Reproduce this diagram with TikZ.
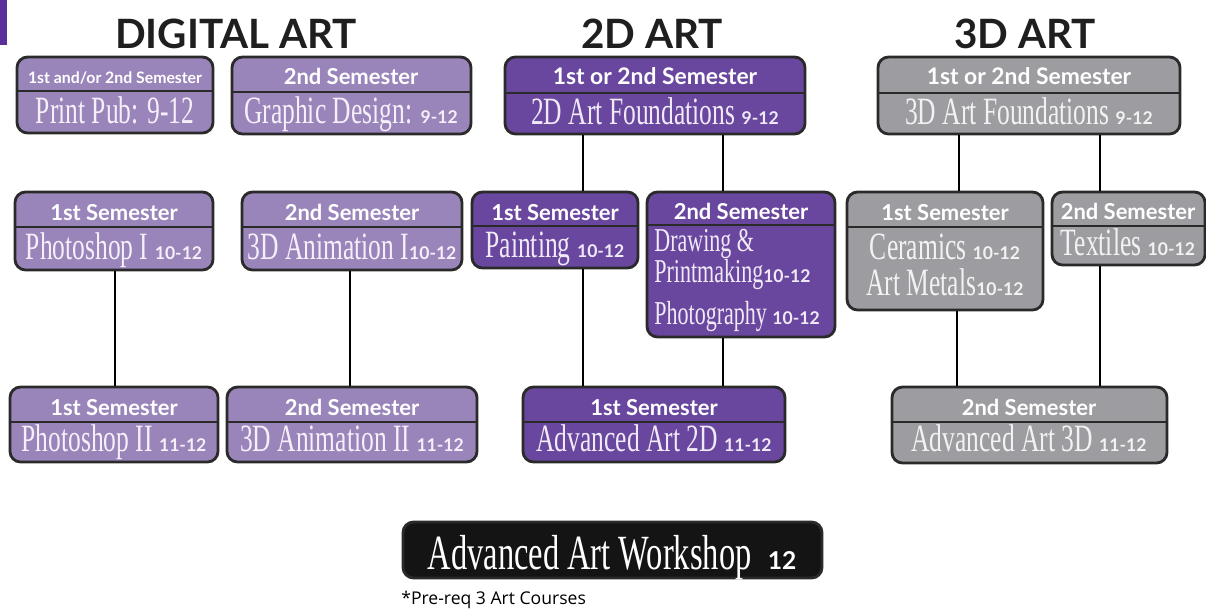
\documentclass[tikz,border=0pt]{standalone}
\usepackage{fontspec}
\usetikzlibrary{fit}

\newfontfamily\bodyfont{Liberation Serif}[FakeStretch=0.66]
\newfontfamily\headfont{Lato}
\newfontfamily\notefont{Open Sans}

\definecolor{digifill}{HTML}{9A85BB}
\definecolor{flatfill}{HTML}{6A479F}
\definecolor{roundfill}{HTML}{9D9DA1}
\definecolor{boxline}{HTML}{2A2A2A}
\definecolor{digitext}{HTML}{F4EFF9}
\definecolor{flattext}{HTML}{F0EAF7}
\definecolor{roundtext}{HTML}{F2F2F2}
\definecolor{cornermark}{HTML}{5B2F9B}

\newcommand{\yrs}[1]{{\headfont\bfseries\fontsize{10}{10}\selectfont #1}}

\begin{document}
\begin{tikzpicture}[x = 0.02cm, y = -0.02cm,
	box/.style = {draw = boxline, line width = 1.6pt, rounded corners = 6pt, inner sep = 0pt},
	digital/.style = {box, fill = digifill},
	art2d/.style = {box, fill = flatfill},
	art3d/.style = {box, fill = roundfill},
	divider/.style = {draw = boxline, line width = 1.2pt},
	link/.style = {draw = black, line width = 1.4pt},
	title/.style = {font = \headfont\bfseries\fontsize{23}{26}\selectfont, text = black!88, anchor = base, inner sep = 0pt},
	head/.style = {font = \headfont\bfseries\fontsize{12.5}{14}\selectfont, text = white, anchor = base, inner sep = 0pt},
	body/.style = {font = \bodyfont\fontsize{22}{24}\selectfont, anchor = base, inner sep = 0pt}]

	\useasboundingbox (0, 0) rectangle (1206, 610);
	\fill [cornermark] (0, 0) rectangle (7, 45);

	% Titles

	\node [title] (digtitle) at (236, 48) {DIGITAL ART};
	\node [title] (title2d) at (652, 48) {2D ART};
	\node [title] (title3d) at (1025, 48) {3D ART};

	% Digital art

	\node [digital, fit = {(17, 57) (213, 133)}] (printpub) {};
	\draw [divider] (printpub.west |- 0, 91) -- (printpub.east |- 0, 91);
	\node [head, font = \headfont\bfseries\fontsize{9}{10}\selectfont] (printpubH) at (115, 83) {1st and/or 2nd Semester};
	\node [body, text = digitext] (printpubT) at (115, 123) {Print Pub: 9-12};

	\node [digital, fit = {(232, 57) (471, 134)}] (graphic) {};
	\draw [divider] (graphic.west |- 0, 92) -- (graphic.east |- 0, 92);
	\node [head] (graphicH) at (351, 84) {2nd Semester};
	\node [body, text = digitext] (graphicT) at (351, 123) {Graphic Design: \yrs{9-12}};

	\node [digital, fit = {(15, 192) (213, 270)}] (photo1) {};
	\draw [divider] (photo1.west |- 0, 227) -- (photo1.east |- 0, 227);
	\node [head] (photo1H) at (114, 220) {1st Semester};
	\node [body, text = digitext] (photo1T) at (114, 259) {Photoshop I \yrs{10-12}};

	\node [digital, fit = {(242, 192) (462, 270)}] (anim1) {};
	\draw [divider] (anim1.west |- 0, 227) -- (anim1.east |- 0, 227);
	\node [head] (anim1H) at (352, 220) {2nd Semester};
	\node [body, text = digitext] (anim1T) at (352, 259) {3D Animation I\yrs{10-12}};

	\node [digital, fit = {(10, 387) (218, 462)}] (photo2) {};
	\draw [divider] (photo2.west |- 0, 422) -- (photo2.east |- 0, 422);
	\node [head] (photo2H) at (114, 415) {1st Semester};
	\node [body, text = digitext] (photo2T) at (114, 451) {Photoshop II \yrs{11-12}};

	\node [digital, fit = {(227, 387) (477, 462)}] (anim2) {};
	\draw [divider] (anim2.west |- 0, 422) -- (anim2.east |- 0, 422);
	\node [head] (anim2H) at (352, 415) {2nd Semester};
	\node [body, text = digitext] (anim2T) at (352, 451) {3D Animation II \yrs{11-12}};

	% 2D art

	\node [art2d, fit = {(505, 57) (805, 134)}] (found2d) {};
	\draw [divider] (found2d.west |- 0, 93) -- (found2d.east |- 0, 93);
	\node [head, font = \headfont\bfseries\fontsize{13}{14}\selectfont] (found2dH) at (655, 84) {1st or 2nd Semester};
	\node [body, text = flattext] (found2dT) at (655, 124) {2D Art Foundations \yrs{9-12}};

	\node [art2d, fit = {(472, 192) (638, 268)}] (paint) {};
	\draw [divider] (paint.west |- 0, 226) -- (paint.east |- 0, 226);
	\node [head] (paintH) at (555, 220) {1st Semester};
	\node [body, text = flattext] (paintT) at (555, 257) {Painting \yrs{10-12}};

	\node [art2d, fit = {(647, 192) (835, 337)}] (drawing) {};
	\draw [divider] (drawing.west |- 0, 225) -- (drawing.east |- 0, 225);
	\node [head] (drawingH) at (741, 219) {2nd Semester};
	\node [body, text = flattext, anchor = base west, font = \bodyfont\fontsize{19}{21}\selectfont] (drawingA) at (654, 251) {Drawing \&};
	\node [body, text = flattext, anchor = base west, font = \bodyfont\fontsize{19}{21}\selectfont] (drawingB) at (654, 282) {Printmaking\yrs{10-12}};
	\node [body, text = flattext, anchor = base west, font = \bodyfont\fontsize{19}{21}\selectfont] (drawingC) at (654, 324) {Photography \yrs{10-12}};

	\node [art2d, fit = {(523, 387) (785, 462)}] (adv2d) {};
	\draw [divider] (adv2d.west |- 0, 422) -- (adv2d.east |- 0, 422);
	\node [head] (adv2dH) at (654, 415) {1st Semester};
	\node [body, text = flattext] (adv2dT) at (654, 451) {Advanced Art 2D \yrs{11-12}};

	% 3D art

	\node [art3d, fit = {(878, 57) (1180, 134)}] (found3d) {};
	\draw [divider] (found3d.west |- 0, 93) -- (found3d.east |- 0, 93);
	\node [head, font = \headfont\bfseries\fontsize{13}{14}\selectfont] (found3dH) at (1029, 84) {1st or 2nd Semester};
	\node [body, text = roundtext] (found3dT) at (1029, 124) {3D Art Foundations \yrs{9-12}};

	\node [art3d, fit = {(847, 192) (1043, 310)}] (ceramics) {};
	\draw [divider] (ceramics.west |- 0, 227) -- (ceramics.east |- 0, 227);
	\node [head] (ceramicsH) at (945, 220) {1st Semester};
	\node [body, text = roundtext] (ceramicsA) at (945, 259) {Ceramics \yrs{10-12}};
	\node [body, text = roundtext] (ceramicsB) at (945, 295) {Art Metals\yrs{10-12}};

	\node [art3d, fit = {(1052, 192) (1205, 265)}] (textiles) {};
	\draw [divider] (textiles.west |- 0, 226) -- (textiles.east |- 0, 226);
	\node [head] (textilesH) at (1128, 219) {2nd Semester};
	\node [body, text = roundtext] (textilesT) at (1128, 255) {Textiles \yrs{10-12}};

	\node [art3d, fit = {(892, 387) (1167, 463)}] (adv3d) {};
	\draw [divider] (adv3d.west |- 0, 422) -- (adv3d.east |- 0, 422);
	\node [head] (adv3dH) at (1029, 415) {2nd Semester};
	\node [body, text = roundtext] (adv3dT) at (1029, 451) {Advanced Art 3D \yrs{11-12}};

	% Connectors

	\foreach \a/\b/\x in {photo1/photo2/115, anim1/anim2/350, found2d/paint/583, found2d/drawing/723,
		paint/adv2d/583, drawing/adv2d/723, found3d/ceramics/959, found3d/textiles/1100,
		ceramics/adv3d/957, textiles/adv3d/1100}
		\draw [link] (\a.south -| \x, 0) -- (\b.north -| \x, 0);

	% Workshop

	\node [box, fill = black!92, fit = {(403, 522) (822, 578)}] (workshop) {};
	\node [body, text = white, font = \bodyfont\fontsize{28}{30}\selectfont] (workshopT) at (612, 569)
		{Advanced Art Workshop \,{\headfont\bfseries\fontsize{14}{14}\selectfont 12}};
	\node [anchor = base west, inner sep = 0pt, font = \notefont\fontsize{10}{12}\selectfont] (prereq) at (401, 604) {*Pre-req 3 Art Courses};

\end{tikzpicture}
\end{document}
